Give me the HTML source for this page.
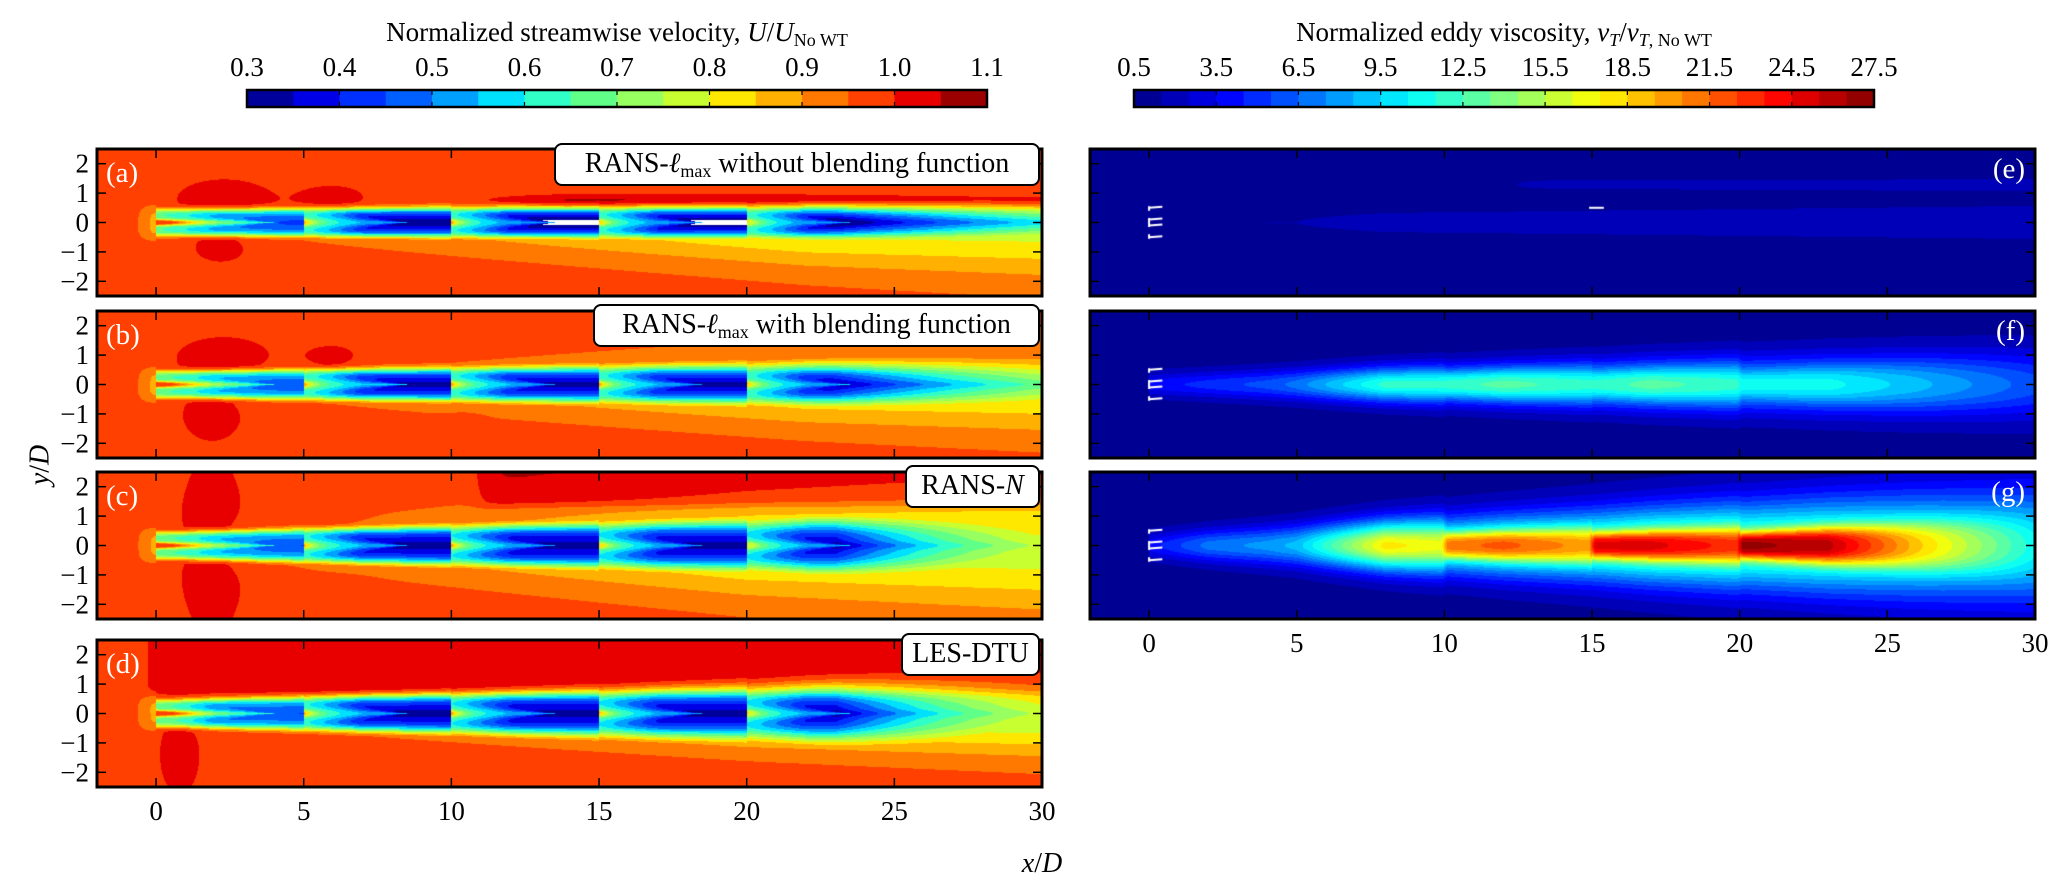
<!DOCTYPE html>
<html><head><meta charset="utf-8">
<style>
html,body{margin:0;padding:0;background:#fff;}
#root{position:relative;width:2067px;height:895px;overflow:hidden;font-family:"Liberation Serif",serif;color:#000;}
canvas{position:absolute;}
.t{position:absolute;font-size:27px;line-height:27px;white-space:nowrap;}
.box{position:absolute;background:#fff;border:2.5px solid #000;border-radius:8px;font-size:28px;line-height:38px;text-align:center;box-sizing:border-box;height:43px;white-space:nowrap;}
sub{font-size:18px;vertical-align:-5px;line-height:0;}
</style></head>
<body>
<div id="root">
<svg id="ov" width="2067" height="895" style="position:absolute;left:0;top:0;z-index:3"></svg>

<div class="t" style="left:617px;top:19px;transform:translateX(-50%)">Normalized streamwise velocity, <i>U</i>/<i>U</i><sub>No WT</sub></div>
<div class="t" style="left:1504px;top:19px;transform:translateX(-50%)">Normalized eddy viscosity, <i>ν<sub>T</sub></i>/<i>ν</i><sub><i>T</i>, No WT</sub></div>

<div class="box" style="left:554px;top:143px;width:486px;z-index:4">RANS-<i>ℓ</i><sub>max</sub> without blending function</div>
<div class="box" style="left:593px;top:304px;width:447px;z-index:4">RANS-<i>ℓ</i><sub>max</sub> with blending function</div>
<div class="box" style="left:905px;top:465px;width:135px;z-index:4">RANS-<i>N</i></div>
<div class="box" style="left:901px;top:633px;width:139px;z-index:4">LES-DTU</div>

<div class="t" style="left:40px;top:465px;transform:translate(-50%,-50%) rotate(-90deg);font-size:28px"><i>y</i>/<i>D</i></div>
<div class="t" style="left:1042px;top:850px;transform:translateX(-50%);font-size:28px"><i>x</i>/<i>D</i></div>
</div>

<script>
// ---------- data ----------
const turbineX = [0, 5, 10, 15, 20];
const velColors = ['#00009a','#0000e6','#0030ff','#0060ff','#00a0ff','#00e0ff','#30ffc8','#60ff88','#98ff60','#c8ff30','#ffe800','#ffb000','#ff7800','#ff4000','#e80000','#9a0000'];
const velTicks = ['0.3','0.4','0.5','0.6','0.7','0.8','0.9','1.0','1.1'];
const nuTicks = ['0.5','3.5','6.5','9.5','12.5','15.5','18.5','21.5','24.5','27.5'];
const xTicks = [0,5,10,15,20,25,30];
const yTicks = [2,1,0,-1,-2];

const peakA = [0.56,0.67,0.70,0.70,0.70];
const peakB = [0.54,0.65,0.66,0.66,0.66];
const peakC = [0.54,0.66,0.67,0.67,0.67];
const peakD = [0.54,0.66,0.67,0.67,0.67];

const nuX      = [0,2,4,5,8,9.9,10.1,12,14.9,15.1,17,19.9,20.1,23,26,30];
const nuOuterE = [0.3,0.5,0.6,0.6,0.8,0.8,0.8,0.8,0.8,0.8,0.8,0.8,0.8,0.8,0.8,0.8];
const nuCoreE  = [0,0,0,0,0,0,0,0,0,0,0,0,0,0,0,0];
const nuOuterF = [3,4,5,6,11,11,9,10,10,9,10,10,8,8,7,5];
const nuCoreF  = [0,0,0,0,0,0,2,2,1,2,2,1,2,2,1,0];
const nuOuterG = [3,6,7,8,17,16,12,13,13,13,14,14,13,13,12,10];
const nuCoreG  = [0,0,0,0,0,0,8,8,6,11,10,8,13,12,6,0];

// ---------- geometry ----------
const LX=97, RX=1090, PW=945, PH=147;
const leftTops=[149,311,472,640], rightTops=[149,311,472];
const sx=PW/32, sy=PH/5;

const velPanels=[
 {id:'a',peak:peakA,bg:0.975,decay:12,s0:0.45,s1:0.004,bUp:0.0,bDown:0.2,bx:22,so0:0.6,so1:0.04,
  lobes:[[2.3,0.8,1.9,0.8,0.05],[6.0,0.85,1.3,0.5,0.045],[2.2,-0.8,1.2,0.7,0.045]],jet:[10,0.72,0.22,0.09],top:null},
 {id:'b',peak:peakB,bg:0.975,decay:9,s0:0.45,s1:0.01,bUp:0.1,bDown:0.18,bx:22,so0:0.6,so1:0.035,
  lobes:[[2.3,0.9,1.9,0.85,0.05],[6.0,0.9,1.2,0.55,0.045],[1.9,-1.0,1.2,1.1,0.05],[10.5,-1.3,0.6,0.3,0.03]],jet:null,top:null},
 {id:'c',peak:peakC,bg:0.975,decay:6,s0:0.45,s1:0.02,bUp:0.18,bDown:0.2,bx:20,so0:0.7,so1:0.05,
  lobes:[[1.9,0,1.5,4.0,0.045],[6,1.2,1.0,0.45,0.035],[6.5,-1.6,1.0,0.4,0.03]],jet:null,top:[11,1.35,0.08]},
 {id:'d',peak:peakD,bg:0.975,decay:6,s0:0.45,s1:0.02,bUp:0.06,bDown:0.22,bx:20,so0:0.5,so1:0.03,
  lobes:[[0.8,-1.4,0.8,1.6,0.05]],jet:null,top:[-0.2,0.7,0.06]}
];
const nuPanels=[
 {id:'e',outer:nuOuterE,core:nuCoreE,bg:0.9,s0:0.45,s1:0.02,band:[12,1.3,0.25,0.8]},
 {id:'f',outer:nuOuterF,core:nuCoreF,bg:0.9,s0:0.4,s1:0.025,band:null},
 {id:'g',outer:nuOuterG,core:nuCoreG,bg:0.9,s0:0.45,s1:0.05,band:null}
];

function sig(t){return 1/(1+Math.exp(-t));}
function interp(xs,ys,x){
  if(x<=xs[0])return ys[0];
  for(let i=1;i<xs.length;i++){ if(x<=xs[i]){const t=(x-xs[i-1])/(xs[i]-xs[i-1]);return ys[i-1]+t*(ys[i]-ys[i-1]);} }
  return ys[ys.length-1];
}
function velAt(p,x,y){
  let U=p.bg;
  for(const L of p.lobes){const dx=(x-L[0])/L[2],dy=(y-L[1])/L[3];U+=L[4]*Math.exp(-(dx*dx+dy*dy));}
  if(p.top) U+=p.top[2]*sig((x-p.top[0])/0.2)*sig((y-p.top[1])/0.08);
  if(p.jet) U+=p.jet[3]*Math.min(1,Math.max(0,(x-p.jet[0])/4))*Math.exp(-Math.pow((y-p.jet[1])/p.jet[2],2));
  if(x<0){ U-=0.09*Math.exp(-Math.pow(x/0.55,2)-Math.pow(y/0.6,4)); return U; }
  const i=Math.min(4,Math.floor(x/5)); const dx=x-turbineX[i];
  let A=p.peak[i]*(0.75+0.25*Math.min(1,dx/2));
  if(i===4&&dx>3) A*=Math.exp(-(dx-3)/p.decay);
  const s=p.s0+p.s1*x, pw=Math.max(2,5-0.1*x);
  const ay=Math.abs(y);
  let core=Math.exp(-Math.pow(ay/s,pw))*(0.9+0.1*Math.exp(-Math.pow(y/0.12,2)));
  let hub;
  if(i===0){ hub=1.15*Math.exp(-Math.pow(y/0.1,2))*Math.exp(-dx/1.3)
              +0.25*Math.exp(-Math.pow(y/(0.3*Math.max(0.05,1-dx/4)),2))*(dx<4?1:0); }
  else { const w=0.32*Math.max(0.02,1-dx/3.5);
         hub=(dx<3.5?0.35:0)*Math.exp(-Math.pow(y/w,2)) + 0.5*Math.exp(-Math.pow(y/0.12,2))*Math.exp(-dx/0.4); }
  const d1=A*core*(1-Math.min(1,hub));
  const b=(y>0?p.bUp:p.bDown)*Math.min(1,x/p.bx);
  const so=p.so0+p.so1*x;
  const d2=b*Math.exp(-Math.pow(y/so,2));
  return U-Math.max(d1,d2);
}
function nuAt(p,x,y){
  let v=p.bg;
  if(p.band) v+=p.band[3]*sig((x-p.band[0])/0.5)*Math.exp(-Math.pow((y-p.band[1])/p.band[2],2));
  if(x<0) return v;
  const s=p.s0+p.s1*x;
  v+=interp(nuX,p.outer,x)*Math.exp(-Math.pow(Math.abs(y)/s,2));
  let dl = x<20 ? (x%5) : (x-20);
  const sc=0.45+(x<20?0.03:0.06)*dl;
  v+=interp(nuX,p.core,x)*Math.exp(-Math.pow(Math.abs(y)/sc,3));
  return v;
}
function hex2rgb(h){return [parseInt(h.substr(1,2),16),parseInt(h.substr(3,2),16),parseInt(h.substr(5,2),16)];}
function jet(t){const c=v=>Math.round(255*Math.max(0,Math.min(1,v)));return [c(1.5-Math.abs(4*t-3)),c(1.5-Math.abs(4*t-2)),c(1.5-Math.abs(4*t-1))];}
const velRGB=velColors.map(hex2rgb);
const nuRGB=[];for(let k=0;k<27;k++)nuRGB.push(jet((k+0.5)/27));

const root=document.getElementById('root');
function makeCanvas(left,top,name){
  const c=document.createElement('canvas');c.width=PW;c.height=PH;
  c.style.left=left+'px';c.style.top=top+'px';
  
  
  root.appendChild(c);return c;
}
velPanels.forEach((p,pi)=>{
  const c=makeCanvas(LX,leftTops[pi],'velocity-contour-'+p.id);
  const ctx=c.getContext('2d');const img=ctx.createImageData(PW,PH);
  for(let py=0;py<PH;py++){const y=2.5-(py+0.5)/sy;
    for(let px=0;px<PW;px++){const x=-2+(px+0.5)/sx;
      const U=velAt(p,x,y);let k=Math.floor((U-0.3)/0.05);
      let col=k<0?[255,255,255]:velRGB[Math.min(15,k)];
      const o=(py*PW+px)*4;img.data[o]=col[0];img.data[o+1]=col[1];img.data[o+2]=col[2];img.data[o+3]=255;}}
  ctx.putImageData(img,0,0);
});
nuPanels.forEach((p,pi)=>{
  const c=makeCanvas(RX,rightTops[pi],'viscosity-contour-'+p.id);
  const ctx=c.getContext('2d');const img=ctx.createImageData(PW,PH);
  for(let py=0;py<PH;py++){const y=2.5-(py+0.5)/sy;
    for(let px=0;px<PW;px++){const x=-2+(px+0.5)/sx;
      const v=nuAt(p,x,y);let k=Math.max(0,Math.min(26,Math.floor(v-0.5)));
      const col=nuRGB[k];const o=(py*PW+px)*4;
      img.data[o]=col[0];img.data[o+1]=col[1];img.data[o+2]=col[2];img.data[o+3]=255;}}
  ctx.putImageData(img,0,0);
  ctx.strokeStyle='#fff';ctx.lineWidth=2;
  const X=v=>(v+2)*sx, Y=v=>(2.5-v)*sy;
  [0.5,0.1,-0.1,-0.5].forEach(yy=>{ctx.beginPath();ctx.moveTo(X(0),Y(yy));ctx.lineTo(X(0.45),Y(yy)-1);ctx.stroke();});
  ctx.beginPath();ctx.moveTo(X(0),Y(0.55));ctx.lineTo(X(0),Y(0.4));ctx.moveTo(X(0),Y(0.15));ctx.lineTo(X(0),Y(-0.15));ctx.moveTo(X(0),Y(-0.4));ctx.lineTo(X(0),Y(-0.55));ctx.stroke();
  if(p.id==='e'){ctx.beginPath();ctx.moveTo(X(14.9),Y(0.5));ctx.lineTo(X(15.4),Y(0.5));ctx.stroke();}
});

// ---------- overlay ----------
const NS='http://www.w3.org/2000/svg';
const ov=document.getElementById('ov');
function el(tag,attrs,parent){const e=document.createElementNS(NS,tag);for(const k in attrs)e.setAttribute(k,attrs[k]);(parent||ov).appendChild(e);return e;}
function frame(left,top,name,yLabels,xLabels){
  const g=el('g',{});
  
  
  const X=v=>left+(v+2)*sx, Y=v=>top+(2.5-v)*sy;
  xTicks.forEach(v=>{
    el('line',{x1:X(v),x2:X(v),y1:top,y2:top+9,stroke:'#000','stroke-width':1.5},g);
    el('line',{x1:X(v),x2:X(v),y1:top+PH,y2:top+PH-9,stroke:'#000','stroke-width':1.5},g);
    if(xLabels){const t=el('text',{x:X(v),y:top+PH+33,'text-anchor':'middle','font-size':27,'font-family':'Liberation Serif, serif'},g);t.textContent=v;
      
      }
  });
  yTicks.forEach(v=>{
    el('line',{x1:left,x2:left+9,y1:Y(v),y2:Y(v),stroke:'#000','stroke-width':1.5},g);
    el('line',{x1:left+PW,x2:left+PW-9,y1:Y(v),y2:Y(v),stroke:'#000','stroke-width':1.5},g);
    if(yLabels){const t=el('text',{x:left-8,y:Y(v)+9,'text-anchor':'end','font-size':27,'font-family':'Liberation Serif, serif'},g);t.textContent=(v<0?'\u2212':'')+Math.abs(v);
      
      }
  });
  el('rect',{x:left,y:top,width:PW,height:PH,fill:'none',stroke:'#000','stroke-width':3},g);
}
velPanels.forEach((p,i)=>{
  frame(LX,leftTops[i],'panel-'+p.id+'-frame',true,i===3);
  const t=el('text',{x:LX+9,y:leftTops[i]+33,fill:'#fff','font-size':29,'font-family':'Liberation Serif, serif'});t.textContent='('+p.id+')';
  
  
});
nuPanels.forEach((p,i)=>{
  frame(RX,rightTops[i],'panel-'+p.id+'-frame',false,i===2);
  const t=el('text',{x:RX+PW-10,y:rightTops[i]+29,fill:'#fff','font-size':29,'text-anchor':'end','font-family':'Liberation Serif, serif'});t.textContent='('+p.id+')';
  
  
});
function colorbar(left,right,colors,ticks,name){
  const g=el('g',{});
  
  
  const w=(right-left)/colors.length;
  colors.forEach((c,i)=>{const r=el('rect',{x:left+i*w,y:90,width:w+0.6,height:17,fill:c},g);
    
    });
  const tw=(right-left)/(ticks.length-1);
  ticks.forEach((s,i)=>{const x=left+i*tw;
    el('line',{x1:x,x2:x,y1:90,y2:95,stroke:'#000','stroke-width':1.2},g);
    el('line',{x1:x,x2:x,y1:107,y2:102,stroke:'#000','stroke-width':1.2},g);
    const t=el('text',{x:x,y:76,'text-anchor':'middle','font-size':27,'font-family':'Liberation Serif, serif'},g);t.textContent=s;
    
    });
  el('rect',{x:left,y:90,width:right-left,height:17,fill:'none',stroke:'#000','stroke-width':2.5},g);
}
colorbar(247,987,velColors,velTicks,'velocity-colorbar');
colorbar(1134,1874,nuRGB.map(c=>'rgb('+c.join(',')+')'),nuTicks,'viscosity-colorbar');
</script>
</body></html>
